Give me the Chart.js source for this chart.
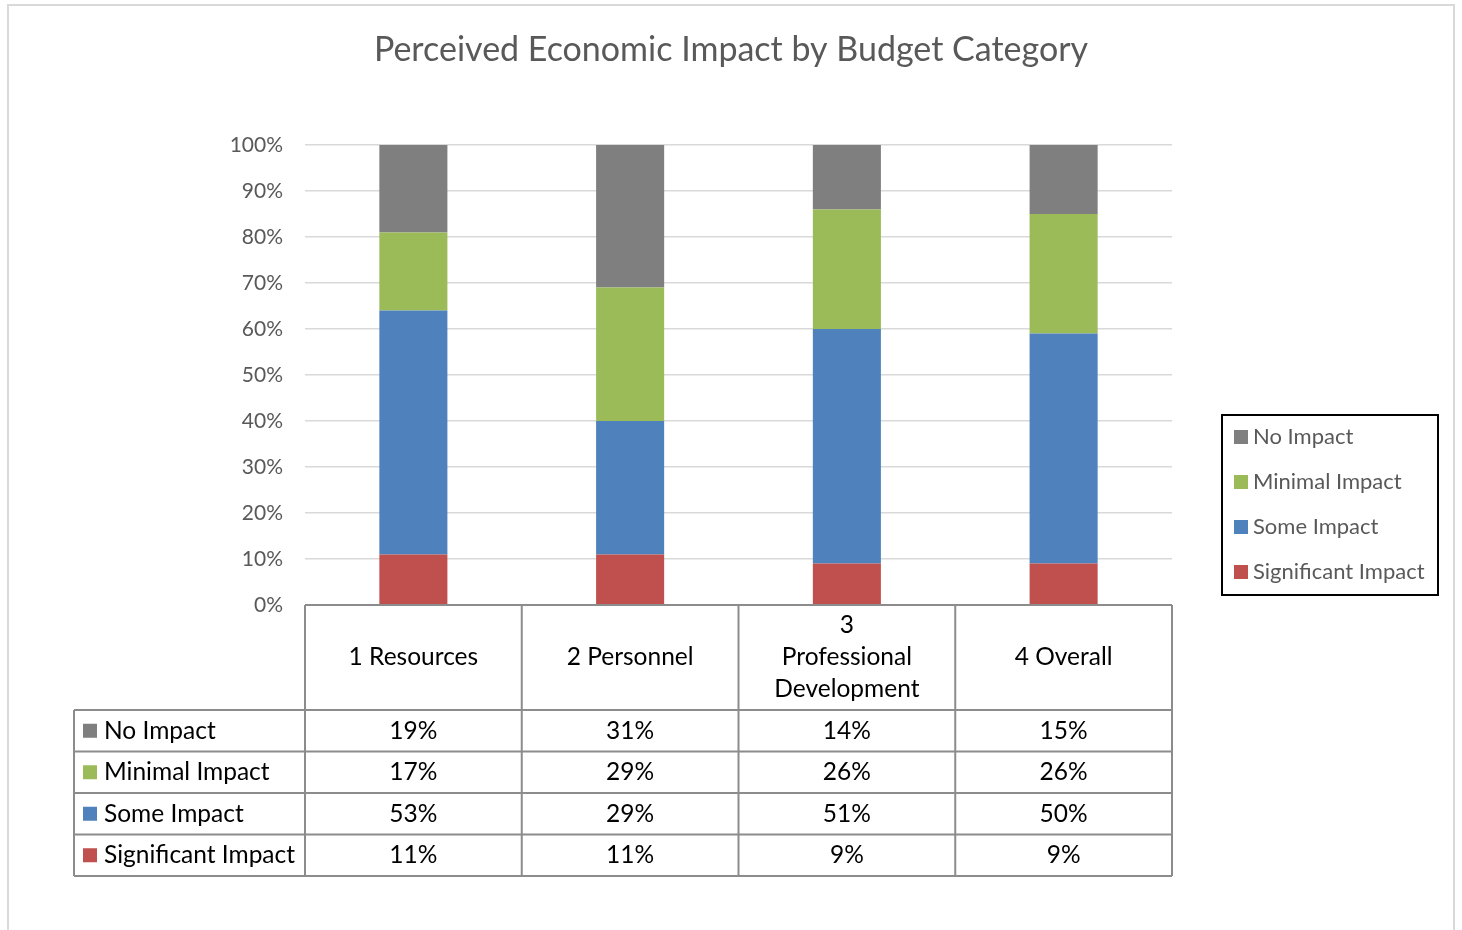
<!DOCTYPE html>
<html>
<head>
<meta charset="utf-8">
<title>Perceived Economic Impact by Budget Category</title>
<script src="https://cdn.jsdelivr.net/npm/chart.js@4"></script>
<style>
  html, body { margin: 0; padding: 0; background: #fff; }
  #wrap { width: 1462px; height: 930px; }
</style>
</head>
<body>
<div id="wrap"><canvas id="impactChart" width="1462" height="930"></canvas></div>
<script>
// data (stacked bottom -> top)
const categories = [['1 Resources'], ['2 Personnel'], ['3', 'Professional', 'Development'], ['4 Overall']];
const seriesNames = ['Significant Impact', 'Some Impact', 'Minimal Impact', 'No Impact'];
const significantImpact = [11, 11, 9, 9];
const someImpact = [53, 29, 51, 50];
const minimalImpact = [17, 29, 26, 26];
const noImpact = [19, 31, 14, 15];
const seriesColors = ['#C0504D', '#4F81BD', '#9BBB59', '#7F7F7F'];
const yTickValues = [0, 10, 20, 30, 40, 50, 60, 70, 80, 90, 100];

const FONT = 'Lato, "Open Sans", sans-serif';
const TABLE_LINE = '#8c8c8c';

const seriesValues = [significantImpact, someImpact, minimalImpact, noImpact];

// draws title, frame, data table and the boxed legend
const decorations = {
  id: 'decorations',
  afterDraw(chart) {
    const ctx = chart.ctx;
    const area = chart.chartArea;
    const y = chart.scales.y;
    const x = chart.scales.x;
    const catW = (area.right - area.left) / categories.length;

    ctx.save();

    // outer frame
    ctx.strokeStyle = '#d9d9d9';
    ctx.lineWidth = 2;
    ctx.strokeRect(8, 5, 1446, 940);

    // title
    ctx.fillStyle = '#595959';
    ctx.font = '34px ' + FONT;
    ctx.textAlign = 'center';
    ctx.textBaseline = 'middle';
    ctx.fillText('Perceived Economic Impact by Budget Category', 731, 50);

    // data table
    const top = y.getPixelForValue(0);
    const headerBottom = top + 105;
    const rowH = 41.5;
    const rows = seriesNames.length;
    const bottom = headerBottom + rowH * rows;
    const leftCol = 74;

    ctx.strokeStyle = TABLE_LINE;
    ctx.lineWidth = 2;
    ctx.beginPath();
    ctx.moveTo(area.left, top); ctx.lineTo(area.right, top);
    for (let r = 0; r <= rows; r++) {
      const yy = headerBottom + rowH * r;
      ctx.moveTo(leftCol, yy); ctx.lineTo(area.right, yy);
    }
    ctx.moveTo(leftCol, headerBottom); ctx.lineTo(leftCol, bottom);
    for (let c = 0; c <= categories.length; c++) {
      const xx = area.left + catW * c;
      ctx.moveTo(xx, top); ctx.lineTo(xx, bottom);
    }
    ctx.stroke();

    ctx.fillStyle = '#000';
    ctx.font = '24.5px ' + FONT;
    ctx.textAlign = 'center';
    ctx.textBaseline = 'middle';
    categories.forEach((lines, i) => {
      const cx = x.getPixelForValue(i);
      const midY = (top + headerBottom) / 2;
      const lh = 32;
      lines.forEach((ln, k) => {
        ctx.fillText(ln, cx, midY + (k - (lines.length - 1) / 2) * lh);
      });
    });

    // rows listed top series first
    for (let r = 0; r < rows; r++) {
      const s = rows - 1 - r;
      const cy = headerBottom + rowH * r + rowH / 2;
      ctx.fillStyle = seriesColors[s];
      ctx.fillRect(83, cy - 7, 14, 14);
      ctx.fillStyle = '#000';
      ctx.textAlign = 'left';
      ctx.fillText(seriesNames[s], 104, cy);
      ctx.textAlign = 'center';
      seriesValues[s].forEach((v, i) => {
        ctx.fillText(v + '%', x.getPixelForValue(i), cy);
      });
    }

    // legend box
    ctx.strokeStyle = '#000';
    ctx.lineWidth = 2;
    ctx.strokeRect(1222, 415, 216, 180);
    ctx.font = '22px ' + FONT;
    ctx.textAlign = 'left';
    for (let r = 0; r < rows; r++) {
      const s = rows - 1 - r;
      const cy = 437 + r * 45;
      ctx.fillStyle = seriesColors[s];
      ctx.fillRect(1234, cy - 7, 14, 14);
      ctx.fillStyle = '#595959';
      ctx.fillText(seriesNames[s], 1253, cy);
    }

    ctx.restore();
  }
};

new Chart(document.getElementById('impactChart'), {
  type: 'bar',
  data: {
    labels: categories,
    datasets: seriesNames.map((name, i) => ({
      label: name,
      data: seriesValues[i],
      backgroundColor: seriesColors[i],
      borderWidth: 0,
      categoryPercentage: 1,
      barPercentage: 0.314
    }))
  },
  options: {
    responsive: false,
    animation: false,
    layout: { padding: { left: 205, right: 290, top: 145, bottom: 54 } },
    scales: {
      x: {
        stacked: true,
        grid: { display: false },
        border: { display: false },
        ticks: { display: false },
        afterFit(scale) { scale.height = 271; }
      },
      y: {
        stacked: true,
        min: 0,
        max: 100,
        afterFit(scale) { scale.width = 100; },
        afterBuildTicks(scale) { scale.ticks = yTickValues.map(v => ({ value: v })); },
        grid: { color: '#d9d9d9', lineWidth: 1.5, drawTicks: false },
        border: { display: false },
        ticks: {
          padding: 22,
          color: '#595959',
          font: { family: FONT, size: 21 },
          callback: v => v + '%'
        }
      }
    },
    plugins: {
      legend: { display: false },
      title: { display: false },
      tooltip: { enabled: false }
    }
  },
  plugins: [decorations]
});
</script>
</body>
</html>
